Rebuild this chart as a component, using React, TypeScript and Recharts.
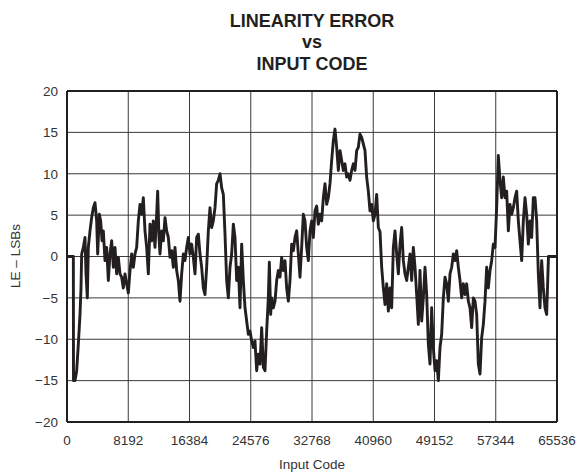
import React from "react";
import { LineChart, Line, XAxis, YAxis, CartesianGrid, ReferenceLine } from "recharts";

const titleLines = ["LINEARITY ERROR", "vs", "INPUT CODE"];
const xLabel = "Input Code";
const yLabel = "LE – LSBs";
const xTicks = [0, 8192, 16384, 24576, 32768, 40960, 49152, 57344, 65536];
const yTicks = [-20, -15, -10, -5, 0, 5, 10, 15, 20];

const codes = [
  0, 850, 870, 1070, 1293, 1516, 1739, 1873, 1962, 2185, 2408, 2541, 2720, 2853, 3076, 3299, 3522, 3745, 3968, 4102,
  4325, 4503, 4681, 4859, 5082, 5305, 5528, 5751, 5974, 6197, 6420, 6643, 6866, 7088, 7311, 7534, 7757, 7980, 8203, 8426,
  8649, 8872, 9095, 9317, 9540, 9763, 9986, 10209, 10432, 10655, 10878, 11101, 11324, 11546, 11769, 11992, 12126, 12304, 12438, 12661,
  12884, 13107, 13330, 13553, 13775, 13998, 14221, 14444, 14667, 14890, 15113, 15336, 15559, 15782, 16004, 16227, 16450, 16673, 16896, 17119,
  17342, 17565, 17788, 18011, 18233, 18456, 18679, 18902, 19125, 19348, 19571, 19794, 20017, 20240, 20462,
  20687, 20910, 21133, 21356, 21579, 21801, 22024, 22247, 22470, 22693, 22916, 23139, 23362, 23585, 23808, 24030, 24253, 24476, 24699, 24922,
  25145, 25368, 25591, 25814, 26037, 26259, 26482, 26705, 26928, 27062, 27240, 27374, 27597, 27820, 28043, 28266, 28488, 28711, 28934, 29157,
  29380, 29603, 29826, 30049, 30272, 30495, 30717, 30940, 31163, 31386, 31609, 31832, 32055, 32278, 32501, 32724, 32946, 33169, 33392, 33615,
  33838, 34061, 34284, 34507, 34730, 34953, 35175, 35398, 35621, 35844, 36067, 36290, 36513, 36736, 36959, 37182, 37404, 37627, 37850, 38073,
  38296, 38519, 38742, 38965, 39188, 39411, 39633, 39856, 40079, 40302, 40525, 40748, 40971, 41194, 41417, 41640,
  41864, 42087, 42310, 42533, 42756, 42979, 43201, 43424, 43647, 43870, 44093, 44316, 44539, 44762, 44985, 45208, 45430, 45653, 45876, 46099,
  46322, 46545, 46768, 46991, 47214, 47437, 47659, 47882, 48105, 48328, 48551, 48774, 48997, 49220, 49443, 49666, 49888, 50111, 50334, 50557,
  50780, 51003, 51226, 51449, 51672, 51895, 52117, 52340, 52563, 52786, 53009, 53232, 53455, 53678, 53901, 54124, 54346, 54569, 54792, 55015,
  55238, 55461, 55684, 55907, 56130, 56353, 56575, 56798, 57021, 57244, 57467, 57690, 57913, 58136, 58359, 58582, 58804, 59027, 59250, 59473,
  59696, 59919, 60142, 60365, 60588, 60811, 61033, 61256, 61479, 61702, 61925, 62148, 62371, 62594, 62817, 63040, 63263, 63486, 63709, 63932,
  64155, 64378, 64400, 65536,
];

const linearityError = [
  0, 0, -15.0, -15.0, -13.8, -10.6, -7.0, -3.8, 0.3, 1.1, 2.3, -2.1, -5.0, 1.1, 3.1, 4.7, 5.9, 6.5, 4.3, 0.3,
  5.1, 4.3, 1.9, 3.1, -0.5, 1.1, -2.9, 0.3, 1.9, -1.3, 1.1, -2.1, -0.1, -2.1, -2.5, -3.8, -2.1, -3.3, -4.4, -1.7,
  0.3, -1.3, 0.3, 1.1, 4.3, 6.3, 5.1, 7.1, 3.1, 1.1, -2.1, 3.9, 1.9, 4.3, 1.1, 5.1, 7.9, 2.3, 0.3, 3.1,
  1.9, 4.7, 3.1, 2.3, -0.1, 0.7, -1.3, 1.1, -1.7, -2.9, -5.4, -2.1, 0.3, -0.5, 1.1, 2.3, 0.3, 1.5, -0.1, -2.1,
  2.3, 2.7, 0.3, -1.3, -3.8, -4.6, -1.3, 3.1, 5.9, 3.5, 4.3, 5.9, 8.8, 9.2, 10.0,
  8.3, 7.5, 2.7, -2.9, -5.0, -1.3, 0.3, 3.9, 2.3, -2.9, -1.3, -6.2, 1.5, -2.9, -6.2, -7.8, -9.4, -9.0, -10.2, -11.0,
  -10.2, -13.8, -11.8, -13.0, -8.6, -13.4, -13.8, -9.0, -5.0, -0.7, -7.0, -5.0, -6.2, -5.4, -2.9, -1.7, -2.5, -0.1, -1.7, -0.5,
  -3.8, -5.4, -2.9, 1.5, 0.7, 2.3, 3.1, 0.3, -2.5, 1.1, 5.1, 4.3, 1.1, -0.5, 3.1, 4.3, 2.3, 5.5, 6.1, 3.9,
  5.1, 4.3, 7.1, 8.8, 6.3, 7.1, 8.8, 11.6, 14.0, 15.4, 13.2, 10.4, 12.8, 11.6, 10.4, 11.2, 9.6, 10.0, 9.2, 10.4,
  11.2, 10.4, 12.8, 13.2, 14.8, 14.4, 13.6, 12.8, 9.6, 7.9, 5.5, 6.3, 4.3, 5.1, 7.5, 3.5,
  3.0, -1.3, -3.8, -5.8, -3.3, -6.6, -3.8, -6.2, 1.1, 3.1, 0.3, -2.1, 1.5, 3.5, -0.5, -2.1, -2.9, -1.3, 0.3, -2.9,
  1.1, -1.3, -4.6, -8.2, -1.7, -7.8, -5.0, -1.3, -4.6, -10.6, -13.0, -6.2, -11.0, -13.8, -12.6, -15.0, -11.0, -9.4, -5.0, -2.5,
  -3.3, -5.4, -2.1, -1.3, 0.3, -0.5, 0.7, -1.3, -2.9, -5.0, -3.3, -4.6, -3.3, -5.4, -6.2, -8.6, -5.0, -5.4, -7.0, -13.0,
  -14.2, -9.8, -8.2, -5.4, -1.3, -3.8, -1.7, -0.5, 1.5, 1.1, 5.9, 12.2, 9.2, 7.1, 9.6, 7.1, 7.9, 3.1, 6.3, 5.1,
  5.9, 7.1, 7.9, 4.3, 1.9, -0.5, 4.3, 7.1, 5.1, 1.5, 4.3, 2.3, 7.1, 7.1, 4.3, -2.1, -6.2, -0.5, -3.8, -6.2,
  -7.0, -0.5, 0, 0,
];

const data = codes.map((c, i) => ({ code: c, le: linearityError[i] }));

const FONT = "'Liberation Sans', Arial, Helvetica, sans-serif";

export default function App() {
  return (
    <div style={{ position: "absolute", left: 0, top: 0, width: 582, height: 475, background: "#fff" }}>
      <LineChart
        width={582}
        height={475}
        data={data}
        margin={{ top: 91, right: 25, bottom: 23, left: 7 }}
        style={{ fontFamily: FONT }}
      >
        <CartesianGrid stroke="#3a3a3a" strokeWidth={1} horizontalValues={yTicks} verticalValues={xTicks} />
        <XAxis
          dataKey="code"
          type="number"
          domain={[0, 65536]}
          ticks={xTicks}
          interval={0}
          tickLine={false}
          tickMargin={7}
          axisLine={{ stroke: "#231f20", strokeWidth: 2 }}
          tick={{ fill: "#333", fontSize: 13.5, fontFamily: FONT }}
          height={30}
        />
        <YAxis
          type="number"
          domain={[-20, 20]}
          ticks={yTicks}
          interval={0}
          tickLine={false}
          tickMargin={3}
          width={60}
          axisLine={{ stroke: "#231f20", strokeWidth: 2 }}
          tick={{ fill: "#333", fontSize: 13.5, fontFamily: FONT }}
          tickFormatter={(v: number) => (v < 0 ? "\u2212" + Math.abs(v) : String(v))}
        />
        <ReferenceLine x={65536} stroke="#231f20" strokeWidth={2} />
        <ReferenceLine y={20} stroke="#231f20" strokeWidth={2} />
        <Line
          type="linear"
          dataKey="le"
          stroke="#231f20"
          strokeWidth={2.9}
          dot={false}
          isAnimationActive={false}
          strokeLinejoin="round"
        />
      </LineChart>
      <svg
        width={582}
        height={475}
        style={{ position: "absolute", left: 0, top: 0, pointerEvents: "none" }}
      >
        <g fontFamily={FONT} fontWeight="bold" fontSize={18} fill="#231f20" textAnchor="middle">
          <text x={312} y={27}>{titleLines[0]}</text>
          <text x={312} y={48}>{titleLines[1]}</text>
          <text x={312} y={70}>{titleLines[2]}</text>
        </g>
        <text x={312} y={469} fontFamily={FONT} fontSize={13.5} fill="#333" textAnchor="middle">
          {xLabel}
        </text>
        <text
          x={20}
          y={256}
          fontFamily={FONT}
          fontSize={13.5}
          fill="#333"
          textAnchor="middle"
          transform="rotate(-90 20 256)"
        >
          {yLabel}
        </text>
      </svg>
    </div>
  );
}
